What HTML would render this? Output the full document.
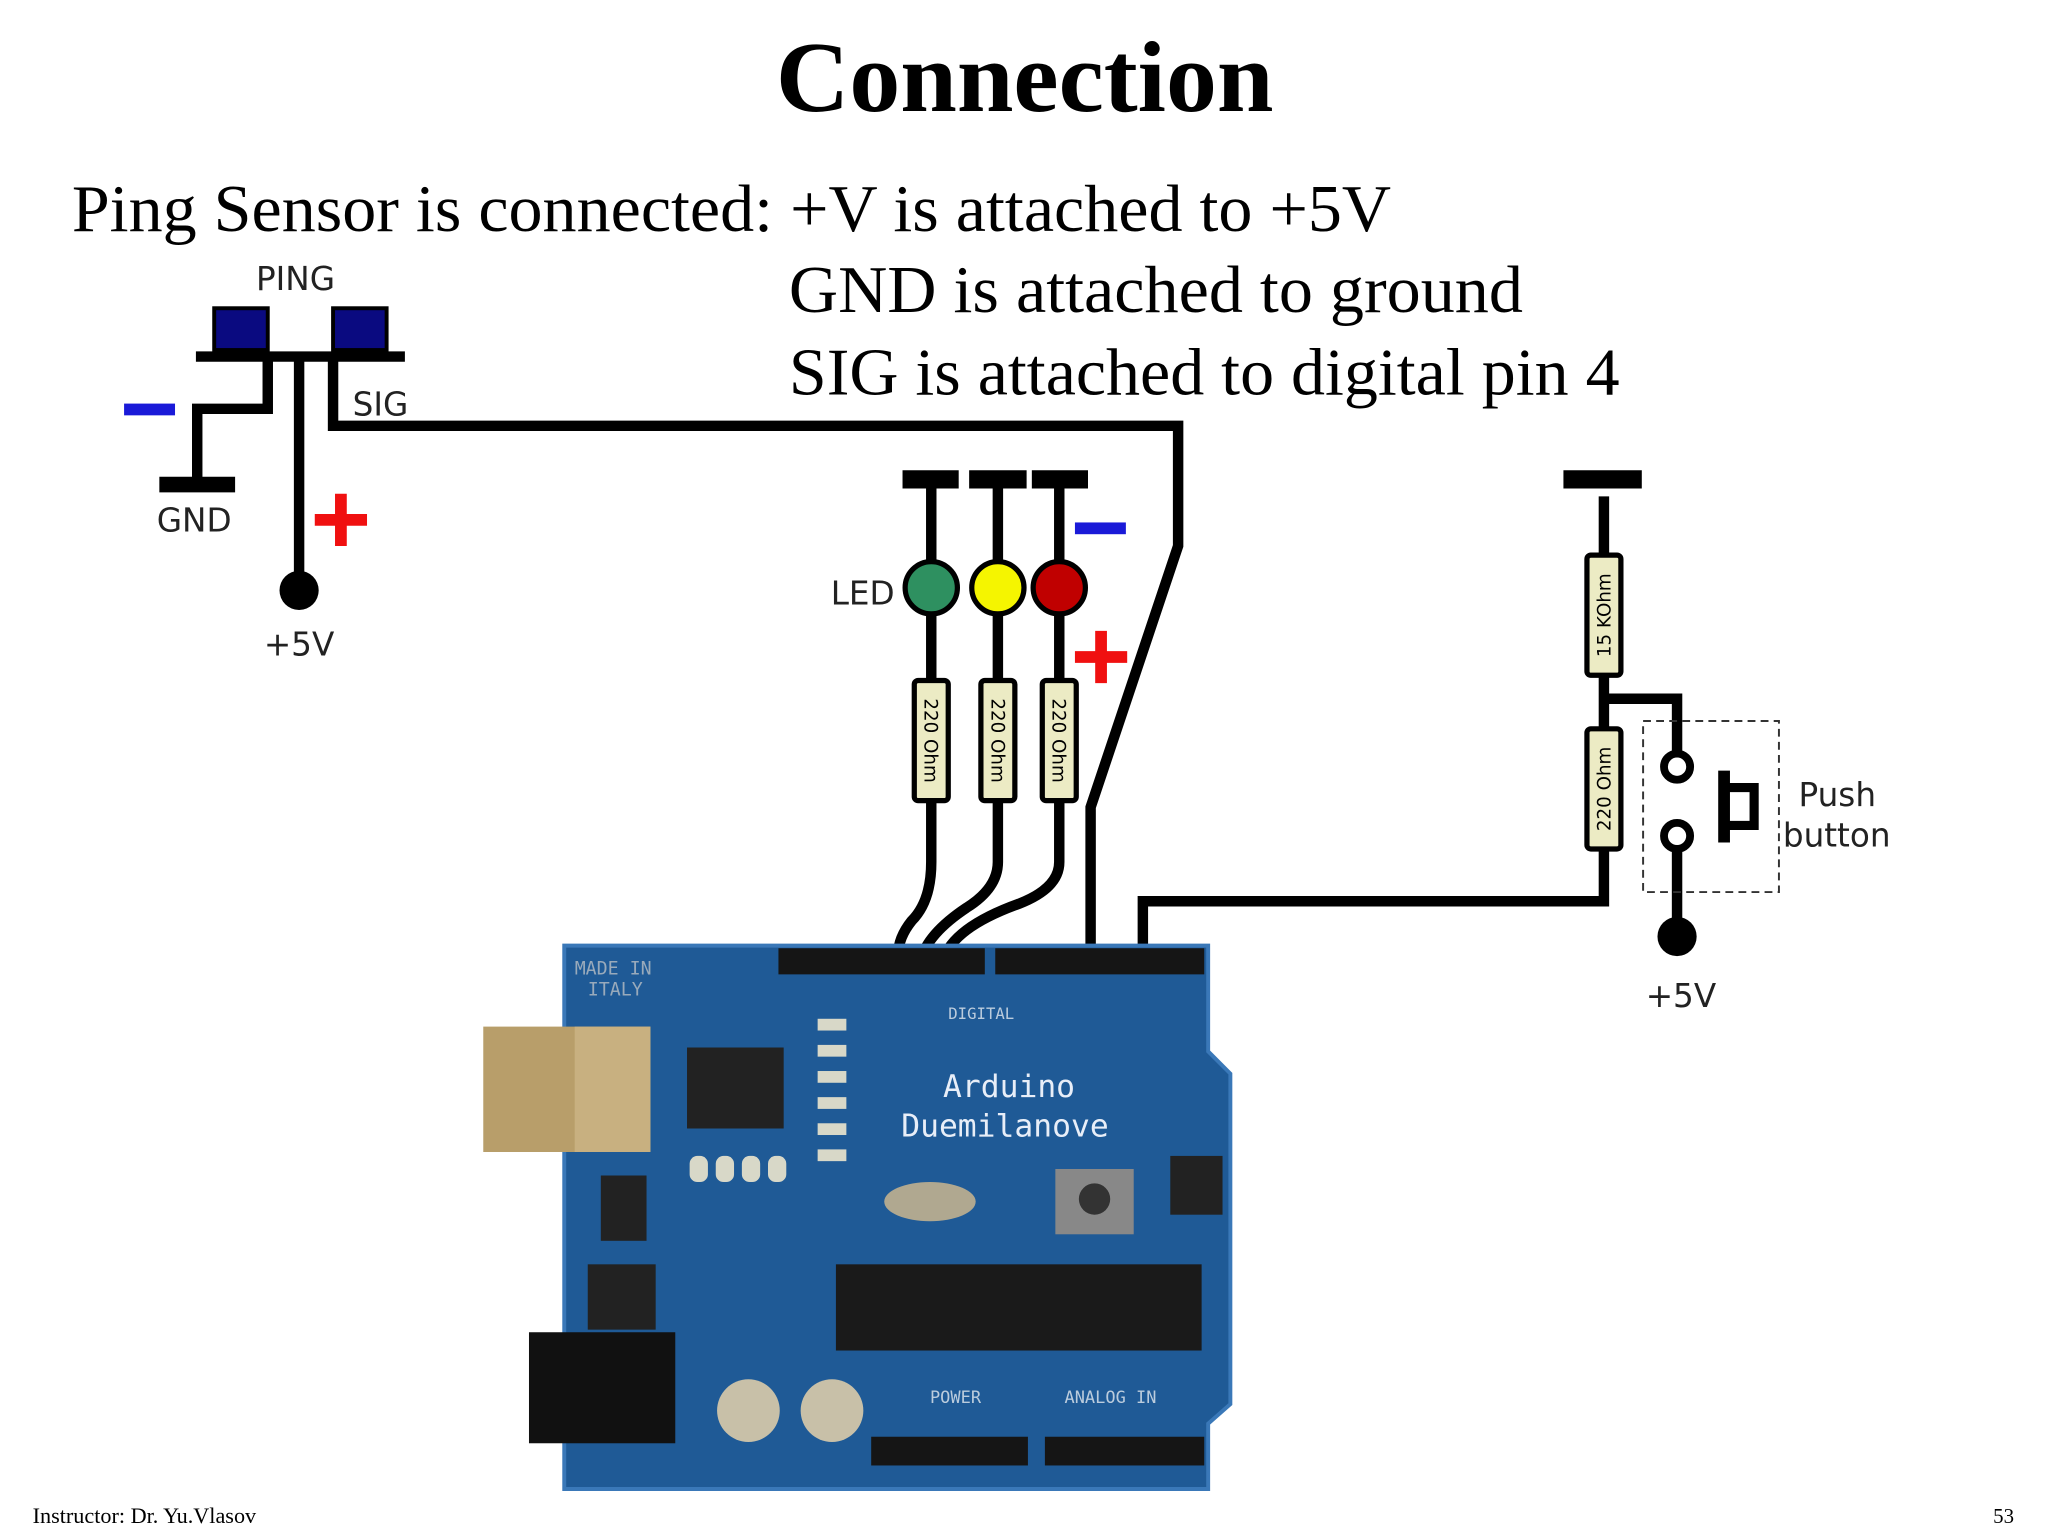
<!DOCTYPE html>
<html><head><meta charset="utf-8"><style>
html,body{margin:0;padding:0;background:#fff;}
svg{display:block}
</style></head><body>
<svg width="2048" height="1536" viewBox="0 0 1568 1176" xmlns="http://www.w3.org/2000/svg">
<rect width="1568" height="1176" fill="#fff"/>
<text x="594" y="85" textLength="381" lengthAdjust="spacingAndGlyphs" font-family="Liberation Serif,serif" font-weight="bold" font-size="77">Connection</text>
<g font-family="Liberation Serif,serif" font-size="51">
<text x="55" y="177" textLength="1010" lengthAdjust="spacingAndGlyphs">Ping Sensor is connected: +V is attached to +5V</text>
<text x="604" y="239" textLength="562" lengthAdjust="spacingAndGlyphs">GND is attached to ground</text>
<text x="604" y="302" textLength="636" lengthAdjust="spacingAndGlyphs">SIG is attached to digital pin 4</text>
</g>
<g font-family="DejaVu Sans,sans-serif" font-size="25" fill="#222">
<text x="196" y="222">PING</text>
<text x="270" y="318">SIG</text>
<text x="120" y="407">GND</text>
<text x="202" y="502">+5V</text>
<text x="636" y="463">LED</text>
<text x="1260" y="771">+5V</text>
<text x="1377" y="617">Push</text>
<text x="1365" y="648">button</text>
</g>
<rect x="164" y="236" width="41" height="32" fill="#0a0a80" stroke="#000" stroke-width="3"/>
<rect x="255" y="236" width="41" height="32" fill="#0a0a80" stroke="#000" stroke-width="3"/>
<g stroke="#000" stroke-width="8" fill="none">
<line x1="150" y1="273" x2="310" y2="273"/>
<polyline points="205,273 205,313 151,313 151,370"/>
<line x1="122" y1="371" x2="180" y2="371" stroke-width="12"/>
<line x1="229" y1="273" x2="229" y2="450"/>
<polyline points="255,273 255,326 902,326 902,418 835,618 835,730"/>
<polyline points="875,730 875,690 1228,690 1228,380"/>
<line x1="1197" y1="367" x2="1257" y2="367" stroke-width="14"/>
<line x1="691" y1="367" x2="734" y2="367" stroke-width="14"/>
<line x1="742" y1="367" x2="786" y2="367" stroke-width="14"/>
<line x1="790" y1="367" x2="833" y2="367" stroke-width="14"/>
<line x1="713" y1="367" x2="713" y2="660"/>
<line x1="764" y1="367" x2="764" y2="660"/>
<line x1="811" y1="367" x2="811" y2="660"/>
<path d="M713 660 Q713 690 698 705 Q686 720 688 735"/>
<path d="M764 660 Q764 680 740 695 Q710 715 705 735"/>
<path d="M811 660 Q811 680 780 692 Q730 710 722 735"/>
<polyline points="1228,535 1284,535 1284,575"/>
<line x1="1284" y1="650" x2="1284" y2="715"/>
<line x1="1320" y1="590" x2="1320" y2="645" stroke-width="9"/>
<polyline points="1320,603 1343,603 1343,632 1320,632" stroke-width="7"/>
</g>
<circle cx="229" cy="452" r="15" fill="#000"/>
<circle cx="1284" cy="717" r="15" fill="#000"/>
<circle cx="1284" cy="587" r="10" fill="#fff" stroke="#000" stroke-width="6"/>
<circle cx="1284" cy="640" r="10" fill="#fff" stroke="#000" stroke-width="6"/>
<rect x="1258" y="552" width="104" height="131" fill="none" stroke="#333" stroke-width="1.5" stroke-dasharray="6,4"/>
<rect x="95" y="309" width="39" height="9" fill="#1a1ad8"/>
<rect x="823" y="400" width="39" height="9" fill="#1a1ad8"/>
<path d="M241 398h40M261 378v40" stroke="#f01010" stroke-width="9"/>
<path d="M823 503h40M843 483v40" stroke="#f01010" stroke-width="9"/>
<circle cx="713" cy="450" r="20" fill="#2e9060" stroke="#000" stroke-width="4"/>
<circle cx="764" cy="450" r="20" fill="#f5f500" stroke="#000" stroke-width="4"/>
<circle cx="811" cy="450" r="20" fill="#c00000" stroke="#000" stroke-width="4"/>
<g fill="#ecebc4" stroke="#000" stroke-width="4">
<rect x="700" y="521" width="26" height="92" rx="3"/>
<rect x="751" y="521" width="26" height="92" rx="3"/>
<rect x="798" y="521" width="26" height="92" rx="3"/>
<rect x="1215" y="425" width="26" height="92" rx="3"/>
<rect x="1215" y="558" width="26" height="92" rx="3"/>
</g>
<g font-family="DejaVu Sans,sans-serif" font-size="14" fill="#000">
<text transform="translate(708,567) rotate(90)" text-anchor="middle">220 Ohm</text>
<text transform="translate(759,567) rotate(90)" text-anchor="middle">220 Ohm</text>
<text transform="translate(806,567) rotate(90)" text-anchor="middle">220 Ohm</text>
<text transform="translate(1233,471) rotate(-90)" text-anchor="middle">15 KOhm</text>
<text transform="translate(1233,604) rotate(-90)" text-anchor="middle">220 Ohm</text>
</g>
<path d="M432 724 L925 724 L925 805 L942 822 L942 1075 L925 1090 L925 1140 L432 1140 Z" fill="#1f5a96"/>
<path d="M432 724 L925 724 L925 805 L942 822 L942 1075 L925 1090 L925 1140 L432 1140 Z" fill="none" stroke="#3a78b8" stroke-width="3"/>
<rect x="596" y="726" width="158" height="20" fill="#151515"/>
<rect x="762" y="726" width="160" height="20" fill="#151515"/>
<rect x="667" y="1100" width="120" height="22" fill="#151515"/>
<rect x="800" y="1100" width="122" height="22" fill="#151515"/>
<rect x="370" y="786" width="128" height="96" fill="#b89e6a"/>
<rect x="440" y="786" width="58" height="96" fill="#c8b080"/>
<rect x="405" y="1020" width="112" height="85" fill="#111"/>
<rect x="640" y="968" width="280" height="66" fill="#1a1a1a"/>
<rect x="526" y="802" width="74" height="62" fill="#222"/>
<rect x="460" y="900" width="35" height="50" fill="#222"/>
<rect x="450" y="968" width="52" height="50" fill="#222"/>
<rect x="808" y="895" width="60" height="50" fill="#888"/>
<circle cx="838" cy="918" r="12" fill="#333"/>
<ellipse cx="712" cy="920" rx="35" ry="15" fill="#b0a890"/>
<circle cx="573" cy="1080" r="24" fill="#c8c0a8"/>
<circle cx="637" cy="1080" r="24" fill="#c8c0a8"/>
<rect x="896" y="885" width="40" height="45" fill="#222"/>
<g fill="#d8d8c8">
<rect x="626" y="780" width="22" height="9"/><rect x="626" y="800" width="22" height="9"/><rect x="626" y="820" width="22" height="9"/><rect x="626" y="840" width="22" height="9"/><rect x="626" y="860" width="22" height="9"/><rect x="626" y="880" width="22" height="9"/>
<rect x="528" y="885" width="14" height="20" rx="6"/><rect x="548" y="885" width="14" height="20" rx="6"/><rect x="568" y="885" width="14" height="20" rx="6"/><rect x="588" y="885" width="14" height="20" rx="6"/>
</g>
<g font-family="DejaVu Sans Mono,monospace" fill="#e8eef8">
<text x="722" y="840" font-size="24">Arduino</text>
<text x="690" y="870" font-size="24">Duemilanove</text>
<text x="440" y="746" font-size="14" fill="#9ab">MADE IN</text>
<text x="450" y="762" font-size="14" fill="#9ab">ITALY</text>
<text x="726" y="780" font-size="12" fill="#bcd">DIGITAL</text>
<text x="712" y="1074" font-size="13" fill="#bcd">POWER</text>
<text x="815" y="1074" font-size="13" fill="#bcd">ANALOG IN</text>
</g>
<text x="25" y="1166" font-family="Liberation Serif,serif" font-size="17">Instructor: Dr. Yu.Vlasov</text>
<text x="1542" y="1166" text-anchor="end" font-family="Liberation Serif,serif" font-size="16">53</text>
</svg>
</body></html>
